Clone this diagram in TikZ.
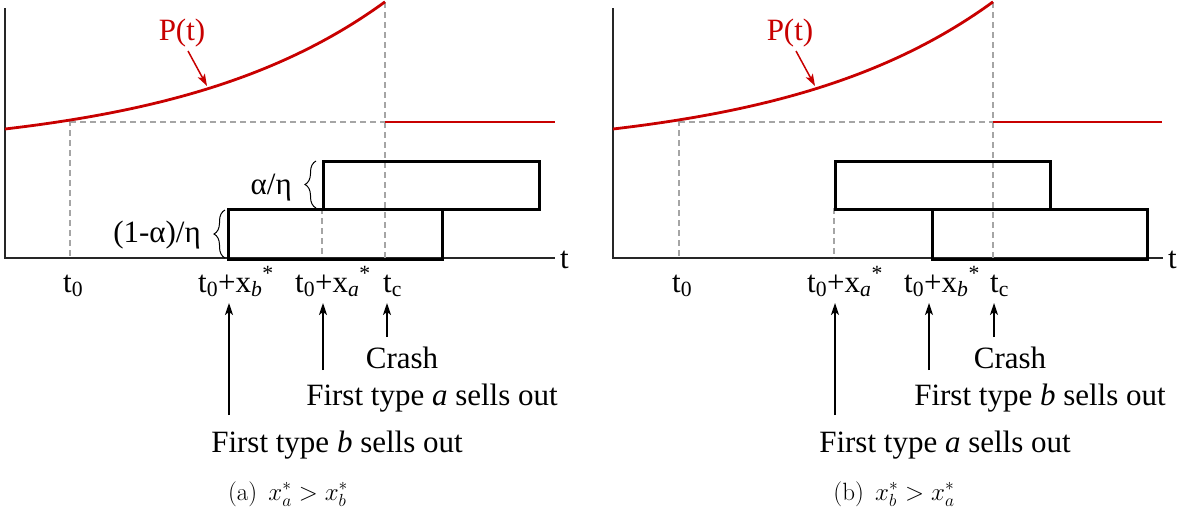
\RequirePackage{fix-cm}
\documentclass[tikz,border=0pt]{standalone}
\usepackage{fontspec}
\newfontfamily\tnr{Liberation Serif}
\usetikzlibrary{arrows.meta,decorations.pathreplacing}
\definecolor{pred}{RGB}{200,0,0}
\definecolor{dgray}{RGB}{165,165,165}
\begin{document}
\begin{tikzpicture}[x=1pt,y=-1pt,
 lab/.style={font=\tnr\fontsize{31}{36}\selectfont, inner sep=0pt},
 plab/.style={lab, text=pred},
 boxnode/.style={draw=black, line width=2.6pt, minimum height=48pt, inner sep=0pt, anchor=north west},
 axis/.style={draw=black!85, line width=1.3pt},
 guide/.style={draw=dgray, line width=1.3pt, dash pattern=on 6pt off 4pt},
 price/.style={draw=pred, line width=2.8pt},
 parr/.style={draw=pred, line width=1.5pt, -{Stealth[length=12pt,width=8pt,inset=3pt]}},
 barr/.style={draw=black, line width=1.5pt, -{Stealth[length=12pt,width=8pt,inset=3pt]}},
 brc/.style={draw=black, line width=1pt, decorate, decoration={brace, amplitude=11pt}},
 captxt/.style={font=\fontsize{25}{30}\selectfont, inner sep=0pt, anchor=base}
]
\useasboundingbox (0,0) rectangle (1183,512);

% ================= panel (a) =================
\begin{scope}
 \coordinate (O) at (5,258);
 \coordinate (Ytop) at (5,8);
 \coordinate (Xend) at (555,258);
 \draw[axis] (Ytop) -- (O) -- (Xend);
 \node[lab, anchor=base west] (ta) at (560,268) {t};
 % guides
 \coordinate (g0) at (70,120); \coordinate (g0b) at (70,258);
 \coordinate (gc) at (385,2); \coordinate (gcb) at (385,258);
 \coordinate (gh) at (385,122); \coordinate (gh0) at (70,122);
 \draw[guide] (g0) -- (g0b);
 \draw[guide] (gc) -- (gcb);
 \draw[guide] (gh0) -- (gh);
 \coordinate (gx1) at (322,208); \coordinate (gx1b) at (322,258);
 \draw[guide] (gx1) -- (gx1b);
 % price
 \draw[price] plot[domain=5:385, samples=80, smooth] (\x, {129-24.4*(exp(0.0048*(\x-5))-1)});
 \coordinate (f1) at (385,122); \coordinate (f2) at (555,122);
 \draw[price] (f1) -- (f2);
 \node[plab, anchor=base] (Pa) at (182,40) {P(t)};
 \coordinate (pa1) at (188,51); \coordinate (pa2) at (207,86);
 \draw[parr] (pa1) -- (pa2);
 % boxes
 \node[boxnode, minimum width=216pt] (Ba) at (322,160) {};
 \node[boxnode, minimum width=214pt, minimum height=50pt] (Bb) at (227,208) {};
 % braces
 \coordinate (br1) at (316,208); \coordinate (br2) at (316,161);
 \draw[brc] (br1) -- (br2);
 \node[lab, anchor=base east] (la) at (292,194) {α/η};
 \coordinate (br3) at (225,258); \coordinate (br4) at (225,210);
 \draw[brc] (br3) -- (br4);
 \node[lab, anchor=base east] (lb) at (201,242) {(1-α)/η};
 % tick labels
 \node[lab, anchor=base west] (t0a) at (63,292) {t\textsubscript{0}};
 \node[lab, anchor=base west] (txb) at (198,292) {t\textsubscript{0}+x\textsubscript{\textit{b}}\textsuperscript{*}};
 \node[lab, anchor=base west] (txa) at (295,292) {t\textsubscript{0}+x\textsubscript{\textit{a}}\textsuperscript{*}};
 \node[lab, anchor=base west] (tca) at (383,292) {t\textsubscript{c}};
 % arrows
 \coordinate (a1s) at (229,415); \coordinate (a1e) at (229,303);
 \coordinate (a2s) at (323,370); \coordinate (a2e) at (323,303);
 \coordinate (a3s) at (387,337); \coordinate (a3e) at (387,303);
 \draw[barr] (a1s) -- (a1e);
 \draw[barr] (a2s) -- (a2e);
 \draw[barr] (a3s) -- (a3e);
 \node[lab, anchor=base] (cra) at (402,368) {Crash};
 \node[lab, anchor=base] (fa1) at (432,405) {First type \textit{a} sells out};
 \node[lab, anchor=base] (fb1) at (337,452) {First type \textit{b} sells out};
 \node[captxt] (capa) at (288,500) {(a)\hspace{0.45em}$x_a^*>x_b^*$};
\end{scope}

% ================= panel (b) =================
\begin{scope}[xshift=608pt]
 \coordinate (Ob) at (5,258);
 \coordinate (Ytopb) at (5,8);
 \coordinate (Xendb) at (555,258);
 \draw[axis] (Ytopb) -- (Ob) -- (Xendb);
 \node[lab, anchor=base west] (tb) at (560,268) {t};
 \coordinate (h0) at (71,120); \coordinate (h0b) at (71,258);
 \coordinate (hc) at (385,2); \coordinate (hcb) at (385,258);
 \coordinate (hh) at (385,122); \coordinate (hh0) at (71,122);
 \draw[guide] (h0) -- (h0b);
 \draw[guide] (hc) -- (hcb);
 \draw[guide] (hh0) -- (hh);
 \coordinate (hx1) at (226,208); \coordinate (hx1b) at (226,258);
 \draw[guide] (hx1) -- (hx1b);
 \draw[price] plot[domain=5:385, samples=80, smooth] (\x, {129-24.4*(exp(0.0048*(\x-5))-1)});
 \coordinate (k1) at (385,122); \coordinate (k2) at (554,122);
 \draw[price] (k1) -- (k2);
 \node[plab, anchor=base] (Pb) at (182,40) {P(t)};
 \coordinate (pb1) at (188,51); \coordinate (pb2) at (207,86);
 \draw[parr] (pb1) -- (pb2);
 \node[boxnode, minimum width=215pt] (Ca) at (226,160) {};
 \node[boxnode, minimum width=215pt, minimum height=50pt] (Cb) at (323,208) {};
 \node[lab, anchor=base west] (t0b) at (64,292) {t\textsubscript{0}};
 \node[lab, anchor=base west] (tya) at (199,292) {t\textsubscript{0}+x\textsubscript{\textit{a}}\textsuperscript{*}};
 \node[lab, anchor=base west] (tyb) at (296,292) {t\textsubscript{0}+x\textsubscript{\textit{b}}\textsuperscript{*}};
 \node[lab, anchor=base west] (tcb) at (382,292) {t\textsubscript{c}};
 \coordinate (b1s) at (227,415); \coordinate (b1e) at (227,303);
 \coordinate (b2s) at (321,370); \coordinate (b2e) at (321,303);
 \coordinate (b3s) at (386,337); \coordinate (b3e) at (386,303);
 \draw[barr] (b1s) -- (b1e);
 \draw[barr] (b2s) -- (b2e);
 \draw[barr] (b3s) -- (b3e);
 \node[lab, anchor=base] (crb) at (402,368) {Crash};
 \node[lab, anchor=base] (fb2) at (432,405) {First type \textit{b} sells out};
 \node[lab, anchor=base] (fa2) at (337,452) {First type \textit{a} sells out};
 \node[captxt] (capb) at (286,500) {(b)\hspace{0.45em}$x_b^*>x_a^*$};
\end{scope}
\end{tikzpicture}
\end{document}
